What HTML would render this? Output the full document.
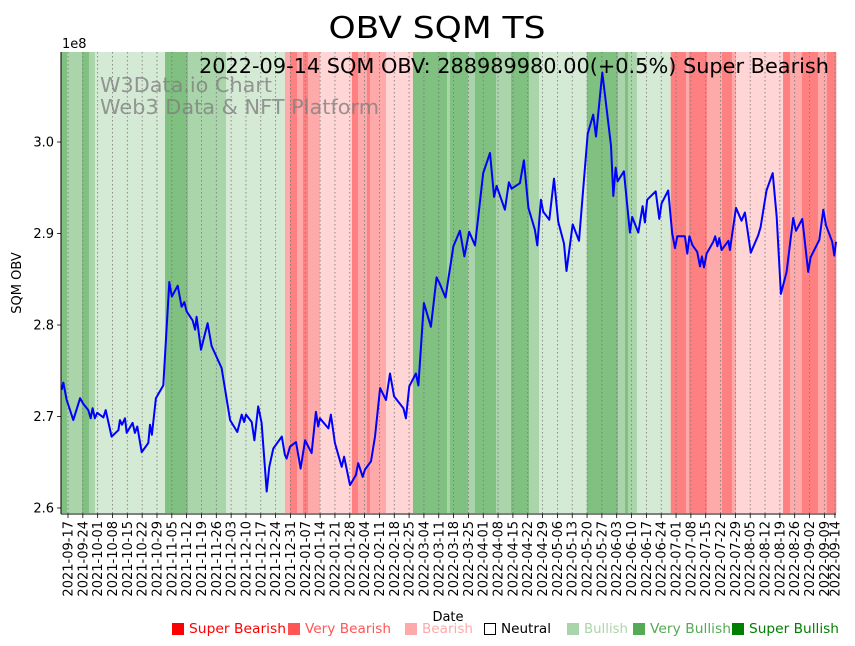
<!DOCTYPE html>
<html><head><meta charset="utf-8"><style>
html,body{margin:0;padding:0;background:#fff;}
svg{display:block;font-family:"DejaVu Sans","Liberation Sans",sans-serif;}
</style></head><body>
<svg id="chart" width="855" height="646" viewBox="0 0 855 646" xmlns="http://www.w3.org/2000/svg">
<text x="437" y="38" font-size="30" text-anchor="middle" textLength="217" lengthAdjust="spacingAndGlyphs" fill="#000">OBV SQM TS</text>
<g id="bands"></g>
<g id="grid"></g>
<text x="100" y="92" font-size="20" textLength="172" lengthAdjust="spacingAndGlyphs" fill="#808080" fill-opacity="0.8">W3Data.io Chart</text>
<text x="100" y="114" font-size="20" textLength="279" lengthAdjust="spacingAndGlyphs" fill="#808080" fill-opacity="0.8">Web3 Data &amp; NFT Platform</text>
<g id="line"></g>
<text x="829" y="73" font-size="20" text-anchor="end" textLength="630" lengthAdjust="spacingAndGlyphs" fill="#000">2022-09-14 SQM OBV: 288989980.00(+0.5%) Super Bearish</text>
<g id="axes"></g>
<text x="62" y="48" font-size="13" fill="#000">1e8</text>
<text transform="translate(21,283) rotate(-90)" font-size="13" text-anchor="middle" fill="#000">SQM OBV</text>
<text x="448" y="621" font-size="13" text-anchor="middle" fill="#000">Date</text>
<g id="legend" font-size="13"></g>
</svg>
<script>
// ---- data ----
const startDate = "2021-09-17";
const days = [-3.0,-2.2,-0.6,2.5,5.7,7.2,9.6,10.7,11.6,12.7,13.8,16.7,17.8,20.6,23.8,24.5,25.5,26.9,27.7,30.5,31.6,32.7,34.8,37.9,38.7,39.6,41.5,45.0,47.8,49.0,51.8,53.6,54.9,56.0,58.8,60.0,60.7,62.8,65.9,67.8,72.5,76.5,79.9,82.0,83.1,84.0,86.7,88.0,89.8,91.4,93.8,95.0,96.9,100.9,102.4,103.2,104.8,107.6,109.8,111.9,115.0,117.0,118.1,118.9,122.9,124.1,126.0,129.2,130.3,133.1,135.9,137.0,139.1,140.2,143.0,144.9,147.3,150.1,152.0,153.9,158.3,159.5,161.1,164.2,165.4,168.0,171.3,174.0,175.3,178.2,181.9,185.0,187.1,189.3,192.1,196.0,199.2,201.1,202.3,206.2,208.1,209.4,213.3,215.2,217.3,220.4,221.5,223.2,224.3,227.2,229.4,231.4,234.1,235.3,238.2,241.2,245.3,247.9,249.2,252.2,256.3,257.4,258.5,259.4,262.4,265.2,266.3,269.2,271.2,272.3,273.4,277.4,279.1,280.2,283.3,285.2,286.5,287.6,291.2,292.3,293.3,294.8,297.0,298.3,299.2,300.2,301.4,304.6,305.5,306.5,307.4,308.5,311.7,312.4,315.3,317.9,319.5,322.3,325.8,326.9,329.7,332.6,334.5,336.5,339.2,342.3,343.6,346.6,349.4,350.5,354.6,356.5,357.8,360.7,361.7,362.5];
const obv = [2.729,2.737,2.718,2.696,2.720,2.714,2.707,2.698,2.709,2.698,2.704,2.699,2.707,2.678,2.685,2.696,2.691,2.698,2.682,2.693,2.682,2.689,2.661,2.671,2.691,2.680,2.720,2.734,2.847,2.831,2.843,2.820,2.825,2.815,2.805,2.795,2.809,2.773,2.802,2.777,2.753,2.696,2.683,2.702,2.694,2.702,2.694,2.674,2.711,2.693,2.618,2.645,2.665,2.678,2.658,2.654,2.667,2.672,2.643,2.674,2.660,2.705,2.689,2.698,2.687,2.702,2.671,2.645,2.656,2.625,2.636,2.649,2.634,2.642,2.651,2.678,2.731,2.718,2.747,2.722,2.709,2.698,2.733,2.747,2.734,2.824,2.798,2.852,2.846,2.830,2.886,2.903,2.875,2.902,2.887,2.966,2.988,2.940,2.952,2.926,2.956,2.949,2.955,2.980,2.928,2.904,2.887,2.937,2.924,2.915,2.960,2.913,2.889,2.859,2.910,2.892,3.009,3.030,3.006,3.076,2.996,2.941,2.972,2.957,2.968,2.901,2.918,2.901,2.930,2.912,2.937,2.946,2.916,2.933,2.947,2.900,2.884,2.897,2.897,2.878,2.897,2.887,2.880,2.864,2.875,2.863,2.878,2.891,2.897,2.886,2.895,2.882,2.892,2.882,2.928,2.914,2.923,2.879,2.898,2.907,2.947,2.966,2.918,2.834,2.858,2.917,2.903,2.916,2.858,2.874,2.893,2.926,2.909,2.891,2.876,2.891];
const bandStart = [-3.3,-0.5,6.6,9.9,12.7,45.8,56.6,74.6,102.4,104.8,108.1,110.9,113.3,118.9,134.0,136.9,141.1,142.5,150.1,162.8,178.9,180.3,188.8,192.1,202.0,209.1,217.6,222.3,244.9,259.6,262.9,264.3,268.5,284.5,291.7,293.1,301.6,308.7,313.4,315.3,337.5,340.8,346.4,354.0,358.2];
const bandLevel = [3,2,3,2,1,3,2,1,-2,-3,-2,-3,-2,-1,-3,-2,-3,-2,-1,3,2,3,2,3,2,3,2,1,3,2,3,2,1,-3,-2,-3,-2,-3,-2,-1,-3,-2,-3,-2,-3];
const bandEnd = 362.5;
const yTicks = [2.6,2.7,2.8,2.9,3.0];
const xTickLabels = ["2021-09-17","2021-09-24","2021-10-01","2021-10-08","2021-10-15","2021-10-22","2021-10-29","2021-11-05","2021-11-12","2021-11-19","2021-11-26","2021-12-03","2021-12-10","2021-12-17","2021-12-24","2021-12-31","2022-01-07","2022-01-14","2022-01-21","2022-01-28","2022-02-04","2022-02-11","2022-02-18","2022-02-25","2022-03-04","2022-03-11","2022-03-18","2022-03-25","2022-04-01","2022-04-08","2022-04-15","2022-04-22","2022-04-29","2022-05-06","2022-05-13","2022-05-20","2022-05-27","2022-06-03","2022-06-10","2022-06-17","2022-06-24","2022-07-01","2022-07-08","2022-07-15","2022-07-22","2022-07-29","2022-08-05","2022-08-12","2022-08-19","2022-08-26","2022-09-02","2022-09-09","2022-09-14"];
const legendLabels = ["Super Bearish","Very Bearish","Bearish","Neutral","Bullish","Very Bullish","Super Bullish"];

// ---- scales ----
const L=61,R=836,T=52,B=514;
const dMin=-3.3,dMax=362.5,vMin=2.5934,vMax=3.0984;
const xS=d=>L+(d-dMin)/(dMax-dMin)*(R-L);
const yS=v=>B-(v-vMin)/(vMax-vMin)*(B-T);
const NS="http://www.w3.org/2000/svg";
function mk(tag,attrs,parent){const e=document.createElementNS(NS,tag);for(const k in attrs)e.setAttribute(k,attrs[k]);parent.appendChild(e);return e;}
const bandColor={3:"#80c080","2":"#aad5aa","1":"#d5ead5","-1":"#ffd5d5","-2":"#ffaaaa","-3":"#ff8080"};
const dayOf=s=>Math.round((Date.parse(s)-Date.parse(startDate))/86400000);

const gB=document.getElementById('bands');
bandStart.forEach((s,i)=>{
  const e=i<bandStart.length-1?bandStart[i+1]:bandEnd;
  const r=mk('rect',{x:xS(s),y:T,width:xS(e)-xS(s)+0.3,height:B-T-1,fill:bandColor[bandLevel[i]]},gB);
  
  
});
const gG=document.getElementById('grid');
const gA=document.getElementById('axes');
xTickLabels.forEach(lbl=>{
  const x=xS(dayOf(lbl));
  const g=mk('line',{x1:x,x2:x,y1:T,y2:B,stroke:"#777",'stroke-width':0.8,'stroke-dasharray':"1.5,2.5"},gG);
  
  
  mk('line',{x1:x,x2:x,y1:B,y2:B+4,stroke:"#000",'stroke-width':0.8},gA);
  const t=mk('text',{transform:`translate(${x+4.5},${B+7}) rotate(-90)`,'font-size':13,'text-anchor':'end',fill:'#000'},gA);
  t.textContent=lbl;
  
  
});
yTicks.forEach(v=>{
  const y=yS(v);
  mk('line',{x1:L-4,x2:L,y1:y,y2:y,stroke:"#000",'stroke-width':0.8},gA);
  const t=mk('text',{x:L-7,y:y+4.5,'font-size':13,'text-anchor':'end',fill:'#000'},gA);
  t.textContent=v.toFixed(1);
  
  
});
mk('line',{x1:L,x2:L,y1:T,y2:B,stroke:"#000",'stroke-width':1},gA);
mk('line',{x1:L,x2:R,y1:B,y2:B,stroke:"#000",'stroke-width':1},gA);

const gL=document.getElementById('line');
const p=mk('polyline',{points:days.map((d,i)=>xS(d).toFixed(1)+","+yS(obv[i]).toFixed(1)).join(" "),fill:"none",stroke:"#0000ff",'stroke-width':2,'stroke-linejoin':'round'},gL);



const legX=[172,288,405,484,567,633,732];
const legW=[97,86,51,50,44,81,90];
const legCol=["#ff0000","#ff5555","#ffaaaa","none","#aad5aa","#55aa55","#008000"];
const legTxt=["#ff0000","#ff5555","#ffaaaa","#000","#aad5aa","#55aa55","#008000"];
const gLeg=document.getElementById('legend');
legendLabels.forEach((lbl,i)=>{
  const g=mk('g',{},gLeg);
  
  
  mk('rect',{x:legX[i]+0.5,y:623.5,width:11,height:11,fill:legCol[i],stroke:legCol[i]==="none"?"#000":legCol[i]},g);
  const t=mk('text',{x:legX[i]+17,y:633,fill:legTxt[i],textLength:legW[i],lengthAdjust:'spacingAndGlyphs'},g);
  t.textContent=lbl;
});
</script>
</body></html>
